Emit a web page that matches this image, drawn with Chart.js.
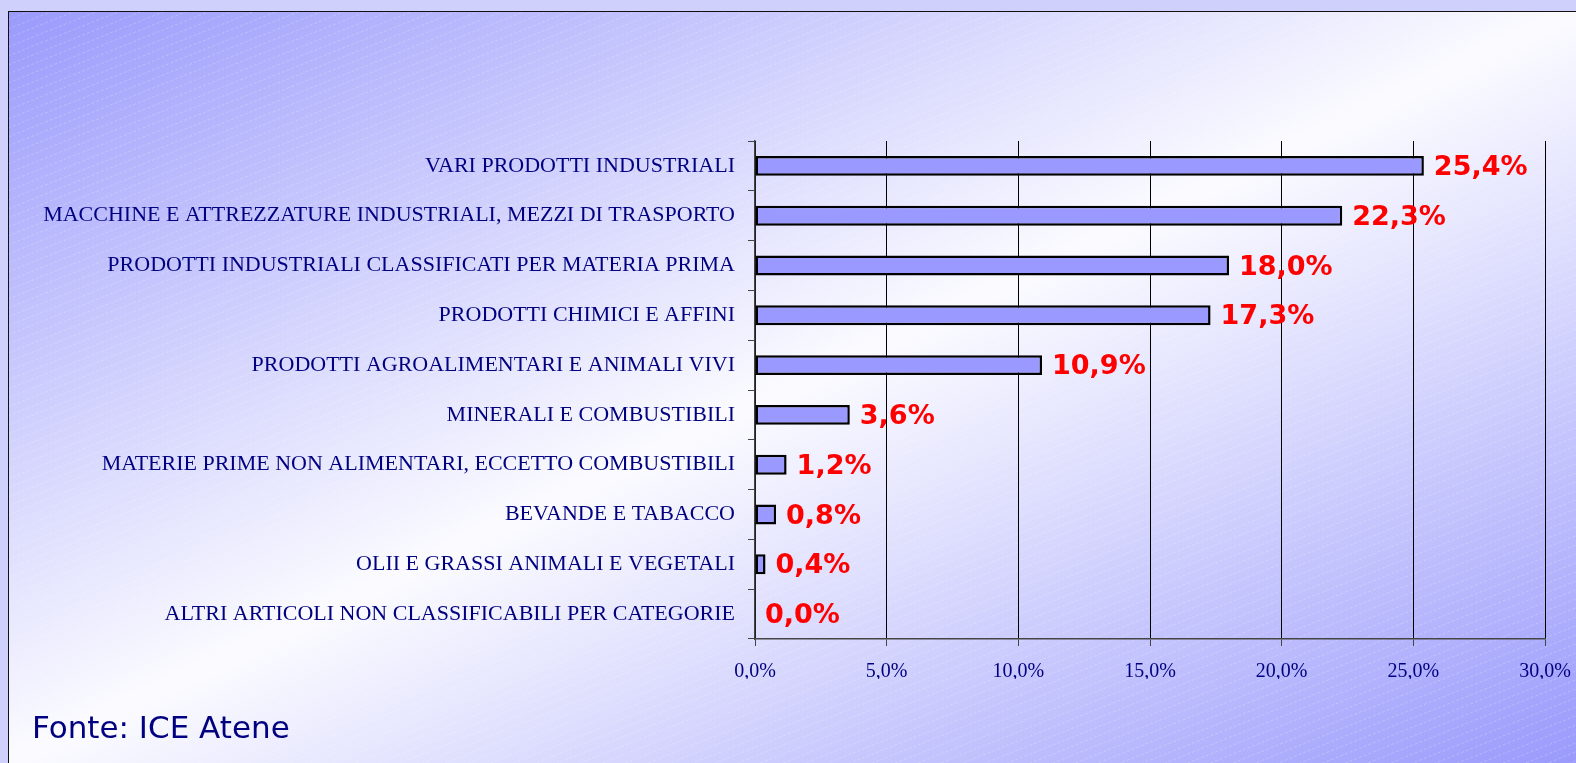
<!DOCTYPE html>
<html>
<head>
<meta charset="utf-8">
<script src="https://cdn.jsdelivr.net/npm/chart.js@4"></script>
<style>
  html, body { margin: 0; padding: 0; overflow: hidden; }
  #wrap { position: relative; width: 1576px; height: 763px; }
  #fonte {
    position: absolute; left: 32px; top: 709px;
    font-family: "DejaVu Sans", sans-serif; font-size: 31px;
    color: #000080; white-space: nowrap;
  }
</style>
</head>
<body>
<div id="wrap">
  <canvas id="grafico" width="1576" height="763"></canvas>
  <div id="fonte">Fonte: ICE Atene</div>
</div>
<script>
// Dati
const categorie = [
    'VARI PRODOTTI INDUSTRIALI',
    'MACCHINE E ATTREZZATURE INDUSTRIALI, MEZZI DI TRASPORTO',
    'PRODOTTI INDUSTRIALI CLASSIFICATI PER MATERIA PRIMA',
    'PRODOTTI CHIMICI E AFFINI',
    'PRODOTTI AGROALIMENTARI E ANIMALI VIVI',
    'MINERALI E COMBUSTIBILI',
    'MATERIE PRIME NON ALIMENTARI, ECCETTO COMBUSTIBILI',
    'BEVANDE E TABACCO',
    'OLII E GRASSI ANIMALI E VEGETALI',
    'ALTRI ARTICOLI NON CLASSIFICABILI PER CATEGORIE'
];
const quote = [25.4, 22.3, 18.0, 17.3, 10.9, 3.6, 1.2, 0.8, 0.4, 0.0];
const tickX = [0, 5, 10, 15, 20, 25, 30];

const fmt = v => v.toFixed(1).replace('.', ',') + '%';

// Sfondo: sfumatura diagonale + tratteggio
const sfondo = {
  id: 'sfondo',
  beforeDraw(chart) {
    const { ctx, width: W, height: H } = chart;
    ctx.save();
    ctx.fillStyle = '#d0d0fc';
    ctx.fillRect(0, 0, W, H);

    const x0 = 8, y0 = 11, w = W - x0, h = H - y0;
    const cx = x0 + w / 2, cy = y0 + h / 2;
    const len = Math.sqrt(w * w + h * h);
    const dx = h / len, dy = w / len;
    const s = (w * h) / len;
    const g = ctx.createLinearGradient(cx - dx * s, cy - dy * s, cx + dx * s, cy + dy * s);
    g.addColorStop(0, '#9a9afc');
    g.addColorStop(0.5, '#fbfbff');
    g.addColorStop(1, '#9a9afc');
    ctx.fillStyle = g;
    ctx.fillRect(x0, y0, w, h);

    // tratteggio leggero
    ctx.beginPath();
    ctx.rect(x0, y0, w, h);
    ctx.clip();
    ctx.strokeStyle = 'rgba(255,255,255,0.22)';
    ctx.lineWidth = 1;
    ctx.setLineDash([3, 2]);
    for (let y = y0; y < H + w * 0.4; y += 9) {
      ctx.beginPath();
      ctx.moveTo(x0, y);
      ctx.lineTo(W, y - w * 0.4);
      ctx.stroke();
    }
    ctx.setLineDash([]);

    // bordo
    ctx.strokeStyle = '#111';
    ctx.lineWidth = 2;
    ctx.beginPath();
    ctx.moveTo(x0, H);
    ctx.lineTo(x0, y0);
    ctx.lineTo(W, y0);
    ctx.stroke();
    ctx.restore();
  }
};

// Etichette rosse accanto alle barre
const etichette = {
  id: 'etichette',
  afterDatasetsDraw(chart) {
    const { ctx } = chart;
    const meta = chart.getDatasetMeta(0);
    ctx.save();
    ctx.font = 'bold 27px "DejaVu Sans"';
    ctx.fillStyle = '#ff0000';
    ctx.textAlign = 'left';
    ctx.textBaseline = 'middle';
    meta.data.forEach((bar, i) => {
      ctx.fillText(fmt(quote[i]), bar.x + 10, bar.y + 2);
    });
    ctx.restore();
  }
};

const grafico = new Chart(document.getElementById('grafico'), {
  type: 'bar',
  data: {
    labels: categorie,
    datasets: [{
      data: quote,
      backgroundColor: '#9999ff',
      borderColor: '#000',
      borderWidth: 2.5,
      borderSkipped: false,
      barPercentage: 0.4,
      categoryPercentage: 1
    }]
  },
  options: {
    indexAxis: 'y',
    responsive: false,
    animation: false,
    layout: { padding: { top: 141, right: 31, bottom: 84, left: 0 } },
    plugins: { legend: { display: false }, tooltip: { enabled: false } },
    scales: {
      x: {
        min: 0, max: 30,
        afterBuildTicks: s => { s.ticks = tickX.map(v => ({ value: v })); },
        afterFit: s => { s.height = 40; s.paddingLeft = 0; s.paddingRight = 0; },
        ticks: {
          callback: v => fmt(v),
          color: '#000080',
          font: { family: 'Liberation Serif', size: 20 },
          padding: 14,
          maxRotation: 0
        },
        grid: { color: '#000', lineWidth: 1, tickLength: 7, tickColor: '#444' },
        border: { color: '#444', width: 1.5 }
      },
      y: {
        afterFit: s => { s.width = 755; },
        ticks: {
          color: '#000080',
          font: { family: 'Liberation Serif', size: 22 },
          padding: 13,
          autoSkip: false
        },
        grid: { drawOnChartArea: false, tickLength: 7, tickColor: '#444', offset: true },
        border: { color: '#444', width: 1.5 }
      }
    }
  },
  plugins: [sfondo, etichette]
});
</script>
</body>
</html>
